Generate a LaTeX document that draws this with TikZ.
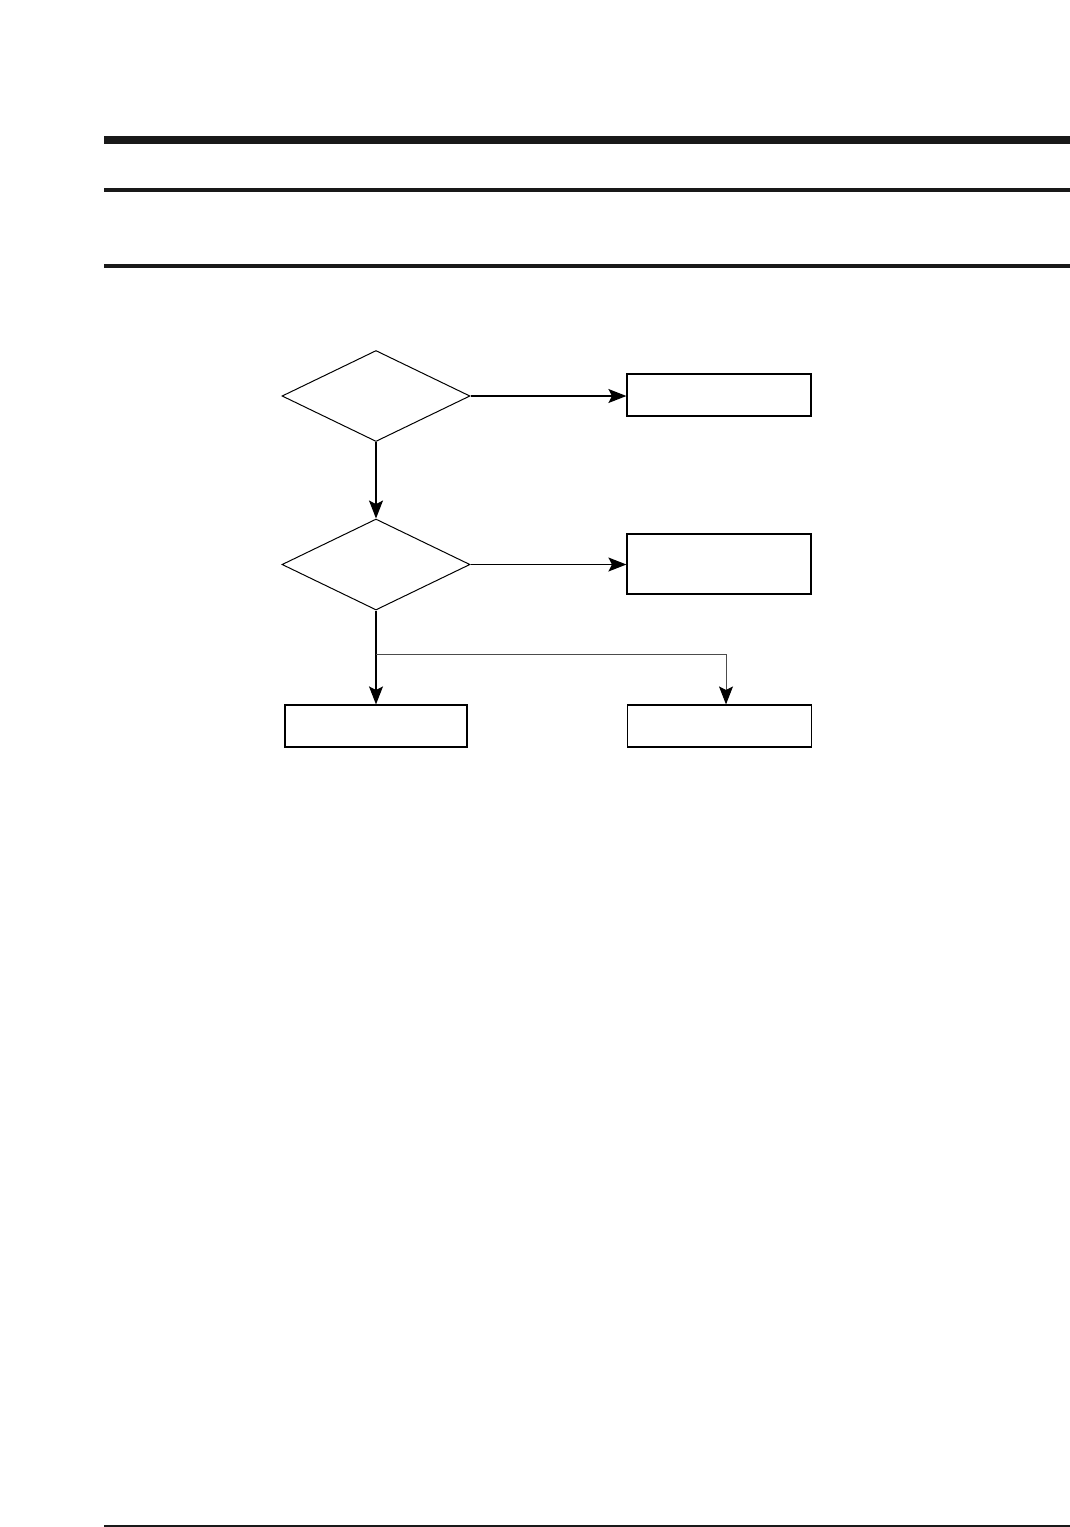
\documentclass[tikz,border=0pt]{standalone}
\usetikzlibrary{shapes.geometric,arrows.meta}
\begin{document}
\begin{tikzpicture}[x=.5pt,y=-.5pt,>={Stealth[length=9pt,width=7pt,inset=1.8pt]},
    decision/.style={diamond,draw,line width=.5pt,inner sep=0,minimum width=94pt,minimum height=45.5pt},
    outcome/.style={rectangle,draw,line width=.6pt,inner sep=0,minimum width=92pt,minimum height=21pt},
    flow/.style={->,line width=.6pt}]
    \useasboundingbox(0,0)rectangle(1070,1527);
    \fill[black!90](104,136)rectangle(1070,144);
    \fill[black!90](104,188)rectangle(1070,192);
    \fill[black!90](104,264)rectangle(1070,268);
    \fill[black!90](104,1525)rectangle(1070,1527);
    \node[decision](chkA)at(376,396){};
    \node[decision](chkB)at(376,564.5){};
    \node[outcome](resA)at(719,395){};
    \node[outcome,minimum height=30pt](resB)at(719,564){};
    \node[outcome,minimum width=91pt](resC)at(376,726){};
    \node[outcome](resD)at(719.5,726){};
    \coordinate(split)at(376,654);
    \draw[flow](chkA.east)--(chkA.east-|resA.west);
    \draw[flow](chkA.south)--(chkB.north);
    \draw[flow](chkB.east)--(chkB.east-|resB.west);
    \draw[flow](chkB.south)--(resC.north);
    \draw[->,black!70,line width=.5pt,-{Stealth[length=9pt,width=7pt,inset=1.8pt,black]}](split)-|([xshift=3.25pt]resD.north);
\end{tikzpicture}
\end{document}
